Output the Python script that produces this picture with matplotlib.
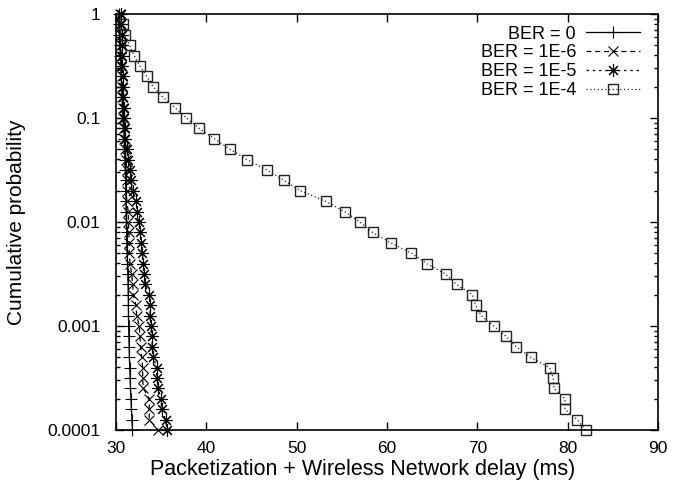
import matplotlib
matplotlib.use("Agg")
import matplotlib.pyplot as plt
from matplotlib.ticker import FixedLocator, FuncFormatter, LogLocator, NullFormatter

plt.rcParams['font.family'] = ['Liberation Sans', 'DejaVu Sans']

# cumulative probability levels (0.1 decade steps)
prob = [1.0, 0.794, 0.631, 0.501, 0.398, 0.316, 0.251, 0.2, 0.158, 0.126,
        0.1, 0.0794, 0.0631, 0.0501, 0.0398, 0.0316, 0.0251, 0.02, 0.0158, 0.0126,
        0.01, 0.00794, 0.00631, 0.00501, 0.00398, 0.00316, 0.00251, 0.002, 0.00158, 0.00126,
        0.001, 0.000794, 0.000631, 0.000501, 0.000398, 0.000316, 0.000251, 0.0002, 0.000158, 0.000126,
        0.0001]

# delay (ms) per series
delay_ber0 = [30.33, 30.35, 30.38, 30.42, 30.47, 30.52, 30.57, 30.62, 30.68, 30.75,
              30.8, 30.85, 30.9, 30.95, 31.0, 31.03, 31.06, 31.08, 31.1, 31.12,
              31.15, 31.18, 31.2, 31.23, 31.27, 31.3, 31.33, 31.35, 31.37, 31.38,
              31.4, 31.42, 31.45, 31.48, 31.52, 31.56, 31.6, 31.65, 31.7, 31.76,
              31.82]
delay_ber6 = [30.44, 30.44, 30.5, 30.5, 30.55, 30.55, 30.61, 30.66, 30.66, 30.72,
              30.77, 30.83, 30.88, 30.99, 31.1, 31.18, 31.18, 31.18, 31.18, 31.36,
              31.36, 31.44, 31.44, 31.47, 31.55, 31.73, 31.85, 31.91, 32.21, 32.29,
              32.57, 32.65, 32.73, 32.84, 32.95, 32.95, 33.02, 33.68, 33.68, 33.68,
              34.67]
delay_ber5 = [30.55, 30.55, 30.61, 30.61, 30.66, 30.66, 30.72, 30.77, 30.77, 30.83,
              30.88, 30.94, 30.99, 31.18, 31.36, 31.55, 31.62, 31.91, 32.21, 32.35,
              32.54, 32.65, 32.76, 32.91, 33.02, 33.13, 33.2, 33.68, 33.76, 33.76,
              33.83, 33.94, 34.01, 34.12, 34.5, 34.5, 34.67, 34.97, 35.05, 35.49,
              35.6]
delay_ber4 = [30.8, 31.0, 31.5, 32.0, 32.65, 33.4, 34.1, 35.2, 36.5, 37.8,
              39.2, 40.9, 42.6, 44.5, 46.7, 48.6, 50.4, 53.2, 55.3, 57.0,
              58.4, 60.4, 62.7, 64.4, 66.5, 67.7, 69.45, 69.8, 70.4, 71.8,
              73.2, 74.3, 75.9, 78.0, 78.4, 78.5, 79.7, 79.7, 81.05, 82.0]
prob_ber4 = prob[1:]

labels = ['BER = 0', 'BER = 1E-6', 'BER = 1E-5', 'BER = 1E-4']
x_ticks = [30, 40, 50, 60, 70, 80, 90]
y_ticks = [0.0001, 0.001, 0.01, 0.1, 1]

fig = plt.figure(figsize=(6.73, 4.87), dpi=100)
ax = fig.add_axes([0.1724, 0.117, 0.8053, 0.8543])

ax.plot(delay_ber0, prob, color='black', lw=0.9, ls='-', marker='+', ms=8, mew=0.8,
        clip_on=False, label=labels[0])
ax.plot(delay_ber6, prob, color='black', lw=0.9, ls=(0, (4, 3)), marker='x', ms=7, mew=0.8,
        clip_on=False, label=labels[1])
ax.plot(delay_ber5, prob, color='black', lw=0.9, ls=(0, (2, 3)), marker=(8, 2, 0), ms=9, mew=0.8,
        clip_on=False, label=labels[2])
ax.plot(delay_ber4, prob_ber4, color='#222222', lw=0.9, ls=(0, (1, 2)), marker='s', ms=7.5, mew=1.0,
        mfc='none', clip_on=False, label=labels[3])

ax.set_yscale('log')
ax.set_xlim(30, 90)
ax.set_ylim(0.0001, 1)
ax.xaxis.set_major_locator(FixedLocator(x_ticks))
ax.yaxis.set_major_locator(FixedLocator(y_ticks))
ax.yaxis.set_major_formatter(FuncFormatter(lambda v, p: '%g' % v))
ax.yaxis.set_minor_locator(LogLocator(base=10, subs=range(2, 10)))
ax.yaxis.set_minor_formatter(NullFormatter())

ax.tick_params(which='both', direction='in', top=True, right=True, labelsize=12.5, width=1)
ax.tick_params(which='major', length=6)
ax.tick_params(axis='x', which='major', pad=8)
ax.tick_params(axis='y', which='major', pad=11)
ax.tick_params(which='minor', length=3)
for s in ax.spines.values():
    s.set_linewidth(1.2)

ax.set_xlabel('Packetization + Wireless Network delay (ms)', fontsize=15.5)
ax.set_ylabel('Cumulative probability', fontsize=15)
ax.xaxis.set_label_coords(0.455, -0.096)
ax.yaxis.set_label_coords(-0.183, 0.5)
ax.xaxis.label.set_va('center')
ax.yaxis.label.set_va('center')

ax.legend(loc='upper right', bbox_to_anchor=(0.967, 0.972), frameon=False, markerfirst=False,
          fontsize=13, handlelength=3.0, numpoints=1, handletextpad=0.55, labelspacing=0.1,
          borderaxespad=0, borderpad=0)

fig.savefig('out.png', dpi=100)
